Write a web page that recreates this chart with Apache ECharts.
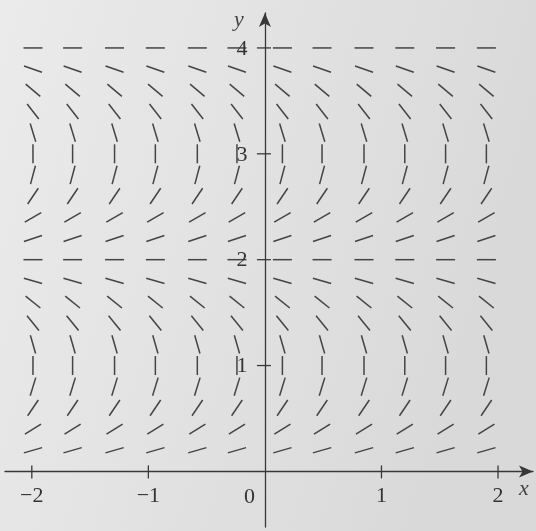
<!DOCTYPE html>
<html>
<head>
<meta charset="utf-8">
<script src="https://cdn.jsdelivr.net/npm/echarts@6/dist/echarts.min.js"></script>
<style>
  html, body { margin: 0; padding: 0; }
  #main { width: 536px; height: 531px; }
</style>
</head>
<body>
<div id="main"></div>
<script>
// column positions (x) of the little segments
var xCols = [-1.99, -1.65, -1.29, -0.94, -0.58, -0.24, 0.15, 0.49, 0.85, 1.2, 1.55, 1.9];
// row positions (y)
var yRows = [0.2, 0.4, 0.6, 0.8, 1.0, 1.2, 1.4, 1.6, 1.8, 2.0,
             2.2, 2.4, 2.6, 2.8, 3.0, 3.2, 3.4, 3.6, 3.8, 4.0];
// direction of the segment in each row, degrees (+ = rising to the right)
var rowAngles = [16, 32, 56, 73, 90, -74, -51, -39, -16, 0,
                 18, 30, 56, 75, 90, -73, -52, -40, -19, 0];
var xTicks = [-2, -1, 1, 2];
var yTicks = [1, 2, 3, 4];

var segData = [];
yRows.forEach(function (y, i) {
    xCols.forEach(function (x) {
        segData.push([x, y, rowAngles[i]]);
    });
});

var chart = echarts.init(document.getElementById('main'));
var ink = '#383838';
var serif = '"Liberation Serif", "DejaVu Serif", serif';

chart.setOption({
    animation: false,
    backgroundColor: {
        type: 'linear', x: 0, y: 0, x2: 1, y2: 0.3,
        colorStops: [{offset: 0, color: '#ebebeb'}, {offset: 1, color: '#d9d9d9'}]
    },
    grid: {left: 5, right: 3, top: 13, bottom: 4},
    xAxis: {
        type: 'value', min: -2.23, max: 2.3,
        splitLine: {show: false},
        axisTick: {show: false},
        axisLabel: {show: false},
        axisLine: {onZero: true, lineStyle: {color: ink, width: 1.3},
            symbol: ['none', 'arrow'], symbolSize: [9, 14]}
    },
    yAxis: {
        type: 'value', min: -0.525, max: 4.33,
        splitLine: {show: false},
        axisTick: {show: false},
        axisLabel: {show: false},
        axisLine: {onZero: true, lineStyle: {color: ink, width: 1.3},
            symbol: ['none', 'arrow'], symbolSize: [9, 14]}
    },
    series: [
        {
            type: 'custom',
            data: segData,
            clip: false,
            renderItem: function (params, api) {
                var c = api.coord([api.value(0), api.value(1)]);
                var a = api.value(2) * Math.PI / 180;
                var L = 9.5;
                var dx = Math.cos(a) * L, dy = -Math.sin(a) * L;
                return {
                    type: 'line',
                    shape: {x1: c[0] - dx, y1: c[1] - dy, x2: c[0] + dx, y2: c[1] + dy},
                    style: {stroke: '#444', lineWidth: 1.5}
                };
            }
        },
        {
            type: 'custom',
            data: xTicks.map(function (v) { return [v, 0]; }),
            clip: false,
            renderItem: function (params, api) {
                var c = api.coord([api.value(0), 0]);
                return {
                    type: 'group',
                    children: [
                        {type: 'line', shape: {x1: c[0], y1: c[1] - 6, x2: c[0], y2: c[1] + 7},
                         style: {stroke: ink, lineWidth: 1.3}},
                        {type: 'text', x: c[0], y: c[1] + 25,
                         style: {text: (api.value(0) < 0 ? '\u2212' : '') + Math.abs(api.value(0)),
                                 font: '22px ' + serif, fill: '#333', align: 'center', verticalAlign: 'middle'}}
                    ]
                };
            }
        },
        {
            type: 'custom',
            data: yTicks.map(function (v) { return [0, v]; }),
            clip: false,
            renderItem: function (params, api) {
                var c = api.coord([0, api.value(1)]);
                return {
                    type: 'group',
                    children: [
                        {type: 'line', shape: {x1: c[0] - 8, y1: c[1], x2: c[0] + 6, y2: c[1]},
                         style: {stroke: ink, lineWidth: 1.3}},
                        {type: 'text', x: c[0] - 23, y: c[1] + 1,
                         style: {text: String(api.value(1)),
                                 font: '22px ' + serif, fill: '#333', align: 'center', verticalAlign: 'middle'}}
                    ]
                };
            }
        }
    ],
    graphic: [
        {type: 'text', left: 244, top: 486,
         style: {text: '0', font: '22px ' + serif, fill: '#333'}},
        {type: 'text', left: 519, top: 478,
         style: {text: 'x', font: 'italic 22px ' + serif, fill: '#444'}},
        {type: 'text', left: 234, top: 9,
         style: {text: 'y', font: 'italic 22px ' + serif, fill: '#444'}}
    ]
});
</script>
</body>
</html>
